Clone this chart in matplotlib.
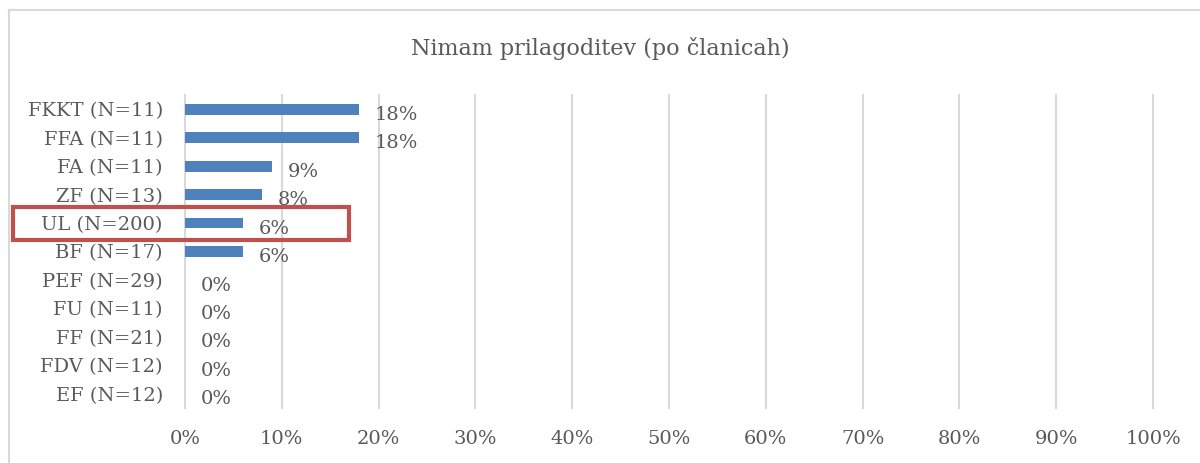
import matplotlib.pyplot as plt
import matplotlib.transforms as mtransforms
from matplotlib.patches import Rectangle

categories = ['FKKT (N=11)', 'FFA (N=11)', 'FA (N=11)', 'ZF (N=13)', 'UL (N=200)',
              'BF (N=17)', 'PEF (N=29)', 'FU (N=11)', 'FF (N=21)', 'FDV (N=12)', 'EF (N=12)']
values = [0.18, 0.18, 0.09, 0.08, 0.06, 0.06, 0.0, 0.0, 0.0, 0.0, 0.0]
xticks = [0.0, 0.1, 0.2, 0.3, 0.4, 0.5, 0.6, 0.7, 0.8, 0.9, 1.0]
highlight = 'UL (N=200)'

TEXT = '#595959'
GRID = '#D9D9D9'
BAR = '#4F81BD'
FS = 14

plt.rcParams['font.family'] = ['DejaVu Serif']

fig = plt.figure(figsize=(12, 4.63), dpi=100)
ax = fig.add_axes([185 / 1200, 1 - 408 / 463, 968 / 1200, 313 / 463])

ypos = list(range(len(categories)))
ax.barh(ypos, values, height=0.38, color=BAR, zorder=3)
ax.set_ylim(len(categories) - 0.5, -0.5)
ax.set_xlim(0, 1.0)
ax.set_yticks(ypos)
ax.set_yticklabels(categories, fontsize=FS, color=TEXT)
ax.set_xticks(xticks)
ax.set_xticklabels([f'{int(round(t * 100))}%' for t in xticks], fontsize=FS, color=TEXT)
ax.tick_params(axis='y', length=0, pad=16)
ax.tick_params(axis='x', length=0, pad=16)
ax.grid(axis='x', color=GRID, linewidth=1.5, zorder=0)
for line in ax.get_xgridlines():
    line.set_clip_on(False)
for s in ax.spines.values():
    s.set_visible(False)

for y, v in zip(ypos, values):
    ax.annotate(f'{int(round(v * 100))}%', (v, y), xytext=(11, -4), textcoords='offset points',
                ha='left', va='center', fontsize=FS, color=TEXT)

fig.text(0.5, 1 - 48 / 463, 'Nimam prilagoditev (po članicah)', ha='center', va='center',
         fontsize=16, color=TEXT)

# chart border (cropped at right and bottom)
fig.add_artist(plt.Line2D([9 / 1200, 9 / 1200], [0, 1 - 10 / 463], transform=fig.transFigure,
                          color=GRID, linewidth=1.5))
fig.add_artist(plt.Line2D([9 / 1200, 1], [1 - 10 / 463, 1 - 10 / 463], transform=fig.transFigure,
                          color=GRID, linewidth=1.5))

# red highlight box around the UL row
hi = categories.index(highlight)
trans = mtransforms.blended_transform_factory(fig.transFigure, ax.transData)
box = Rectangle((13 / 1200, hi + 0.58), 336 / 1200, -1.16, transform=trans, fill=False,
                edgecolor='#C0504D', linewidth=3, clip_on=False, zorder=5)
fig.add_artist(box)

fig.savefig('out.png', dpi=100)
